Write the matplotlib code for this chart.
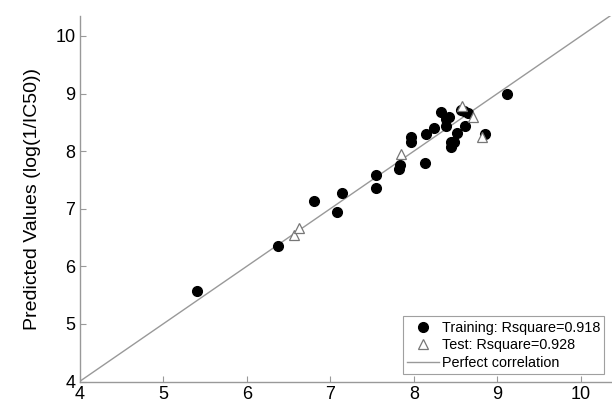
import matplotlib
matplotlib.use("Agg")
import matplotlib.pyplot as plt

train_x = [5.40, 6.37, 6.81, 7.14, 7.08, 7.55, 7.55, 7.82, 7.84, 7.96, 7.96,
           8.13, 8.15, 8.24, 8.33, 8.38, 8.42, 8.39, 8.52, 8.44, 8.48, 8.44,
           8.61, 8.56, 8.60, 8.65, 8.85, 9.12]
train_y = [5.57, 6.36, 7.14, 7.27, 6.95, 7.59, 7.36, 7.69, 7.76, 8.25, 8.15,
           7.80, 8.30, 8.41, 8.68, 8.55, 8.59, 8.44, 8.32, 8.16, 8.15, 8.07,
           8.44, 8.72, 8.70, 8.67, 8.29, 8.99]
test_x = [6.56, 6.62, 7.85, 8.57, 8.71, 8.82]
test_y = [6.54, 6.67, 7.95, 8.78, 8.60, 8.24]
ideal = [4, 10.5]
ticks = [4, 5, 6, 7, 8, 9, 10]

plt.rcParams['font.family'] = ['Liberation Sans', 'DejaVu Sans']

fig = plt.figure(figsize=(6.12, 4.05), dpi=100)
ax = fig.add_axes([0.130, 0.058, 0.874, 0.903])

ax.plot(train_x, train_y, 'o', color='black', markersize=7,
        label='Training: Rsquare=0.918', zorder=3)
ax.plot(test_x, test_y, '^', markerfacecolor='white', markeredgecolor='#777777',
        markeredgewidth=0.9, markersize=6.5, label='Test: Rsquare=0.928', zorder=4)
ax.plot(ideal, ideal, '-', color='#999999', linewidth=1.0,
        label='Perfect correlation', zorder=2)

ax.set_xlim(4, 10.4)
ax.set_ylim(4, 10.35)
ax.set_xticks(ticks)
ax.set_yticks(ticks)
ax.tick_params(direction='in', length=4, color='#999999', labelsize=13, pad=3)
for s in ['top', 'right']:
    ax.spines[s].set_visible(False)
for s in ['left', 'bottom']:
    ax.spines[s].set_color('#999999')
    ax.spines[s].set_linewidth(1.0)

ax.set_ylabel('Predicted Values (log(1/IC50))', fontsize=14, labelpad=10)

leg = ax.legend(loc='lower left', bbox_to_anchor=(0.604, 0.02), fontsize=10.4,
                frameon=True, fancybox=False, edgecolor='#888888',
                handlelength=2.2, handletextpad=0.2, labelspacing=0.25,
                borderpad=0.3, borderaxespad=0)
leg.get_frame().set_linewidth(0.8)

fig.savefig("out.png", dpi=100)
